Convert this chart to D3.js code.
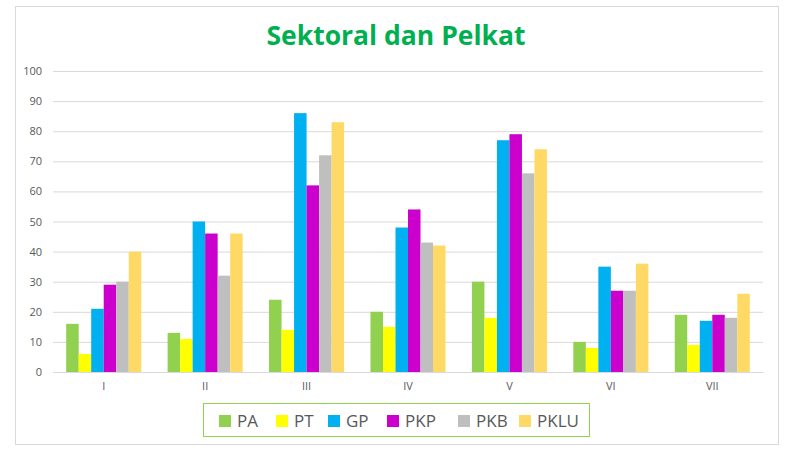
<!DOCTYPE html>
<html><head><meta charset="utf-8">
<script src="https://cdn.jsdelivr.net/npm/d3@7"></script>
<style>body{margin:0;background:#fff;}svg{display:block;}</style>
</head><body><svg id="c" width="789" height="458"></svg>
<script>
const categories = ["I","II","III","IV","V","VI","VII"];
const seriesNames = ["PA","PT","GP","PKP","PKB","PKLU"];
const PA   = [16,13,24,20,30,10,19];
const PT   = [6,11,14,15,18,8,9];
const GP   = [21,50,86,48,77,35,17];
const PKP  = [29,46,62,54,79,27,19];
const PKB  = [30,32,72,43,66,27,18];
const PKLU = [40,46,83,42,74,36,26];
const yTicks = [0,10,20,30,40,50,60,70,80,90,100];
const colors = ["#92d050","#ffff00","#00b0f0","#cc00cc","#bfbfbf","#ffd966"];
const seriesValues = [PA,PT,GP,PKP,PKB,PKLU];

const svg = d3.select("#c");
const font = "'Open Sans', 'Noto Sans', sans-serif";
svg.append("rect").attr("x",15.5).attr("y",6.5).attr("width",763).attr("height",438)
  .attr("fill","#fff").attr("stroke","#d9d9d9");

svg.append("text").attr("x",396).attr("y",45).attr("text-anchor","middle")
  .attr("font-family",font).attr("font-weight","bold").attr("font-size",26.5)
  .attr("fill","#00b050").text("Sektoral dan Pelkat");

const x0 = d3.scaleBand().domain(categories).range([53,763]).paddingInner(0.26).paddingOuter(0.13);
const x1 = d3.scaleBand().domain(seriesNames).range([0,x0.bandwidth()]);
const y = d3.scaleLinear().domain([0,100]).range([372,71]);

const yAxis = svg.append("g").attr("transform","translate(53,0)")
  .call(d3.axisLeft(y).tickValues(yTicks).tickSize(-710).tickPadding(11));
yAxis.select(".domain").remove();
yAxis.selectAll(".tick line").attr("stroke","#d9d9d9");
yAxis.selectAll(".tick text").attr("fill","#595959").attr("font-size",11).attr("font-family",font);

const g = svg.append("g");
categories.forEach((c,i)=>{
  seriesNames.forEach((s,j)=>{
    const v = seriesValues[j][i];
    g.append("rect").attr("x",x0(c)+x1(s)).attr("width",x1.bandwidth())
      .attr("y",y(v)).attr("height",y(0)-y(v)).attr("fill",colors[j]);
  });
});

const xAxis = svg.append("g").attr("transform","translate(0,372)")
  .call(d3.axisBottom(x0).tickSize(0).tickPadding(10));
xAxis.select(".domain").attr("stroke","#d9d9d9");
xAxis.selectAll(".tick text").attr("fill","#595959").attr("font-size",11).attr("font-family",font);

// legend
svg.append("rect").attr("x",203.5).attr("y",403.5).attr("width",386).attr("height",33)
  .attr("fill","none").attr("stroke","#92d050");
const legX = [219,276,328,387,458,519];
seriesNames.forEach((s,j)=>{
  svg.append("rect").attr("x",legX[j]).attr("y",415).attr("width",12).attr("height",12).attr("fill",colors[j]);
  svg.append("text").attr("x",legX[j]+18).attr("y",427).attr("font-family",font).attr("font-size",17)
    .attr("fill","#595959").text(s);
});
</script></body></html>
